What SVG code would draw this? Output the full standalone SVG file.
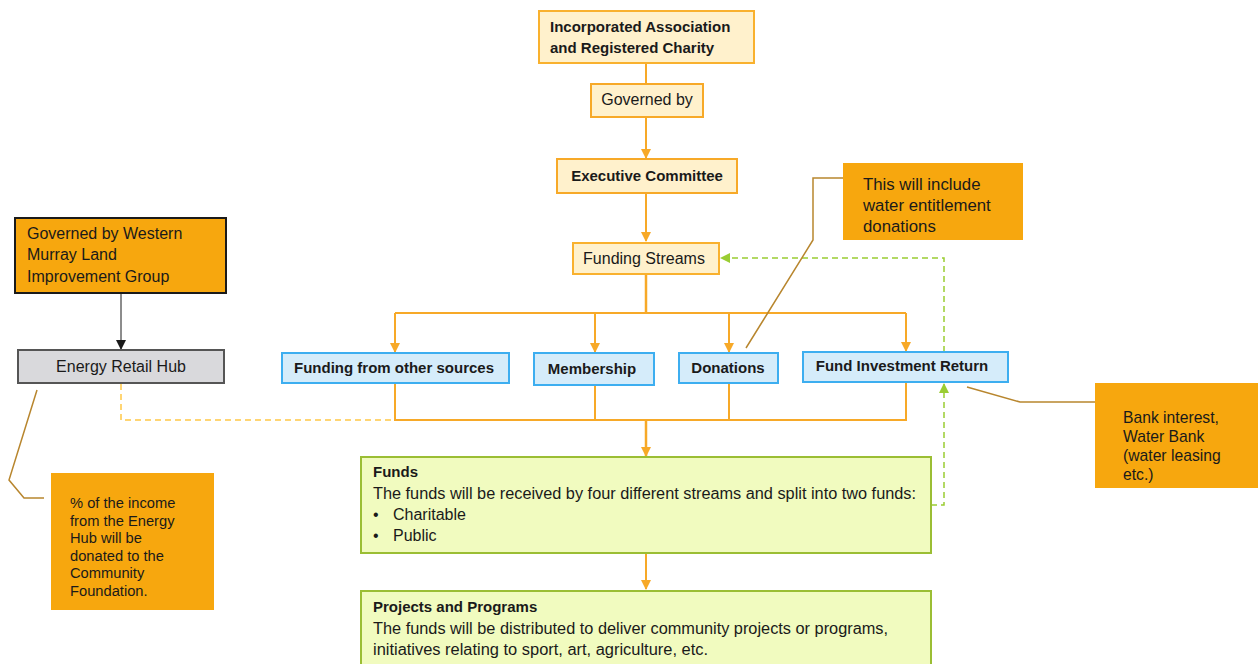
<svg xmlns="http://www.w3.org/2000/svg" width="1258" height="664" viewBox="0 0 1258 664">
<style>
text{font-family:"Liberation Sans",Arial,sans-serif;fill:#1a1a1a}
.b{font-weight:bold;font-size:15px}
.r{font-size:16px}
.s{font-size:14.7px}
.cream{fill:#FFF1CC;stroke:#F9B12E;stroke-width:2}
.blue{fill:#D5ECFA;stroke:#3DAEF0;stroke-width:2}
.green{fill:#F1FBBF;stroke:#9BBE34;stroke-width:2}
.callout{fill:#F7A70E}
.con{fill:none;stroke:#F7A928;stroke-width:2}
.dashG{fill:none;stroke:#9ACD32;stroke-width:1.5;stroke-dasharray:6 4}
.dashO{fill:none;stroke:#FFC845;stroke-width:1.5;stroke-dasharray:6 4}
.lead{fill:none;stroke:#B8862E;stroke-width:1.5}
</style>
<defs>
<marker id="ao" markerUnits="userSpaceOnUse" markerWidth="10" markerHeight="10" refX="9" refY="5" orient="auto"><path d="M0,0 L10,5 L0,10 Z" fill="#F7A928"/></marker>
<marker id="ag" markerUnits="userSpaceOnUse" markerWidth="10" markerHeight="10" refX="9" refY="5" orient="auto"><path d="M0,0 L10,5 L0,10 Z" fill="#9ACD32"/></marker>
<marker id="ak" markerUnits="userSpaceOnUse" markerWidth="10" markerHeight="10" refX="9" refY="5" orient="auto"><path d="M0,0 L10,5 L0,10 Z" fill="#1a1a1a"/></marker>
</defs>

<g id="connectors">
<path class="con" d="M646,63 V84"/>
<path class="con" d="M646,117 V158" marker-end="url(#ao)"/>
<path class="con" d="M646,193 V241" marker-end="url(#ao)"/>
<path class="con" d="M646,274 V313" style="stroke-width:2.5"/>
<path class="con" d="M395,313 H906"/>
<path class="con" d="M395,313 V352" marker-end="url(#ao)"/>
<path class="con" d="M595,313 V352" marker-end="url(#ao)"/>
<path class="con" d="M729,313 V352" marker-end="url(#ao)"/>
<path class="con" d="M906,313 V351" marker-end="url(#ao)"/>
<path class="con" d="M395,383 V420 H906 V382"/>
<path class="con" d="M595,385 V420"/>
<path class="con" d="M729,383 V420"/>
<path class="con" d="M646,420 V456" style="stroke-width:2.5" marker-end="url(#ao)"/>
<path class="con" d="M646,553 V589" marker-end="url(#ao)"/>
<path class="dashO" d="M121,384 V420 H395"/>
<path d="M121,293 V349" fill="none" stroke="#1a1a1a" stroke-width="1" marker-end="url(#ak)"/>
<path class="dashG" d="M944,352 V258 H721" marker-end="url(#ag)"/>
<path class="dashG" d="M931,505 H944 V384" marker-end="url(#ag)"/>
<path class="lead" d="M843,178 H813 V240 L746,348"/>
<path class="lead" d="M967,387 L1020,402 H1095"/>
<path class="lead" d="M37,390 L9,480 L24,498 H44"/>
</g>

<g id="n-incorporated">
<rect class="cream" x="539" y="11" width="215" height="52"/>
<text class="b" x="550" y="32">Incorporated Association</text>
<text class="b" x="550" y="53">and Registered Charity</text>
</g>
<g id="n-governed">
<rect class="cream" x="591" y="84" width="112" height="33" style="stroke:#F7A928"/>
<text class="r" x="647" y="105" text-anchor="middle">Governed by</text>
</g>
<g id="n-executive">
<rect class="cream" x="557" y="159" width="180" height="34" style="stroke:#F7A928"/>
<text class="b" x="647" y="181" text-anchor="middle">Executive Committee</text>
</g>
<g id="n-funding-streams">
<rect class="cream" x="573" y="243" width="146" height="31"/>
<text class="r" x="644" y="264" text-anchor="middle">Funding Streams</text>
</g>
<g id="n-other">
<rect class="blue" x="282" y="353" width="227" height="30"/>
<text class="b" x="394" y="373" text-anchor="middle">Funding from other sources</text>
</g>
<g id="n-membership">
<rect class="blue" x="534" y="353" width="120" height="32"/>
<text class="b" x="592" y="374" text-anchor="middle">Membership</text>
</g>
<g id="n-donations">
<rect class="blue" x="679" y="353" width="99" height="30"/>
<text class="b" x="728" y="373" text-anchor="middle">Donations</text>
</g>
<g id="n-investment">
<rect class="blue" x="803" y="352" width="205" height="30"/>
<text class="b" x="902" y="371" text-anchor="middle">Fund Investment Return</text>
</g>
<g id="n-western">
<rect x="15" y="218" width="211" height="75" fill="#F7A70E" stroke="#1a1a1a" stroke-width="2"/>
<text class="r" x="27" y="239">Governed by Western</text>
<text class="r" x="27" y="260">Murray Land</text>
<text class="r" x="27" y="282">Improvement Group</text>
</g>
<g id="n-energy">
<rect x="18" y="350" width="206" height="33" fill="#D9D9DC" stroke="#555" stroke-width="2"/>
<text class="r" x="121" y="372" text-anchor="middle">Energy Retail Hub</text>
</g>
<g id="n-callout-water">
<rect class="callout" x="843" y="163" width="180" height="77"/>
<text x="863" y="190" style="font-size:16.8px">This will include</text>
<text x="863" y="211" style="font-size:16.8px">water entitlement</text>
<text x="863" y="232" style="font-size:16.8px">donations</text>
</g>
<g id="n-callout-bank">
<rect class="callout" x="1095" y="383" width="163" height="105"/>
<text x="1123" y="423" style="font-size:15.7px">Bank interest,</text>
<text x="1123" y="442" style="font-size:15.7px">Water Bank</text>
<text x="1123" y="461" style="font-size:15.7px">(water leasing</text>
<text x="1123" y="480" style="font-size:15.7px">etc.)</text>
</g>
<g id="n-callout-energy">
<rect class="callout" x="51" y="473" width="163" height="137"/>
<text class="s" x="70" y="508">% of the income</text>
<text class="s" x="70" y="525.5">from the Energy</text>
<text class="s" x="70" y="543">Hub will be</text>
<text class="s" x="70" y="560.5">donated to the</text>
<text class="s" x="70" y="578">Community</text>
<text class="s" x="70" y="595.5">Foundation.</text>
</g>
<g id="n-funds">
<rect class="green" x="361" y="457" width="570" height="96"/>
<text class="b" x="373" y="477">Funds</text>
<text class="r" x="373" y="499" textLength="543" lengthAdjust="spacingAndGlyphs">The funds will be received by four different streams and split into two funds:</text>
<text class="r" x="373" y="520">•</text>
<text class="r" x="393" y="520">Charitable</text>
<text class="r" x="373" y="541">•</text>
<text class="r" x="393" y="541">Public</text>
</g>
<g id="n-projects">
<rect class="green" x="361" y="591" width="570" height="80"/>
<text class="b" x="373" y="612">Projects and Programs</text>
<text class="r" x="373" y="634" textLength="515" lengthAdjust="spacingAndGlyphs">The funds will be distributed to deliver community projects or programs,</text>
<text class="r" x="373" y="655" textLength="335" lengthAdjust="spacingAndGlyphs">initiatives relating to sport, art, agriculture, etc.</text>
</g>
</svg>
